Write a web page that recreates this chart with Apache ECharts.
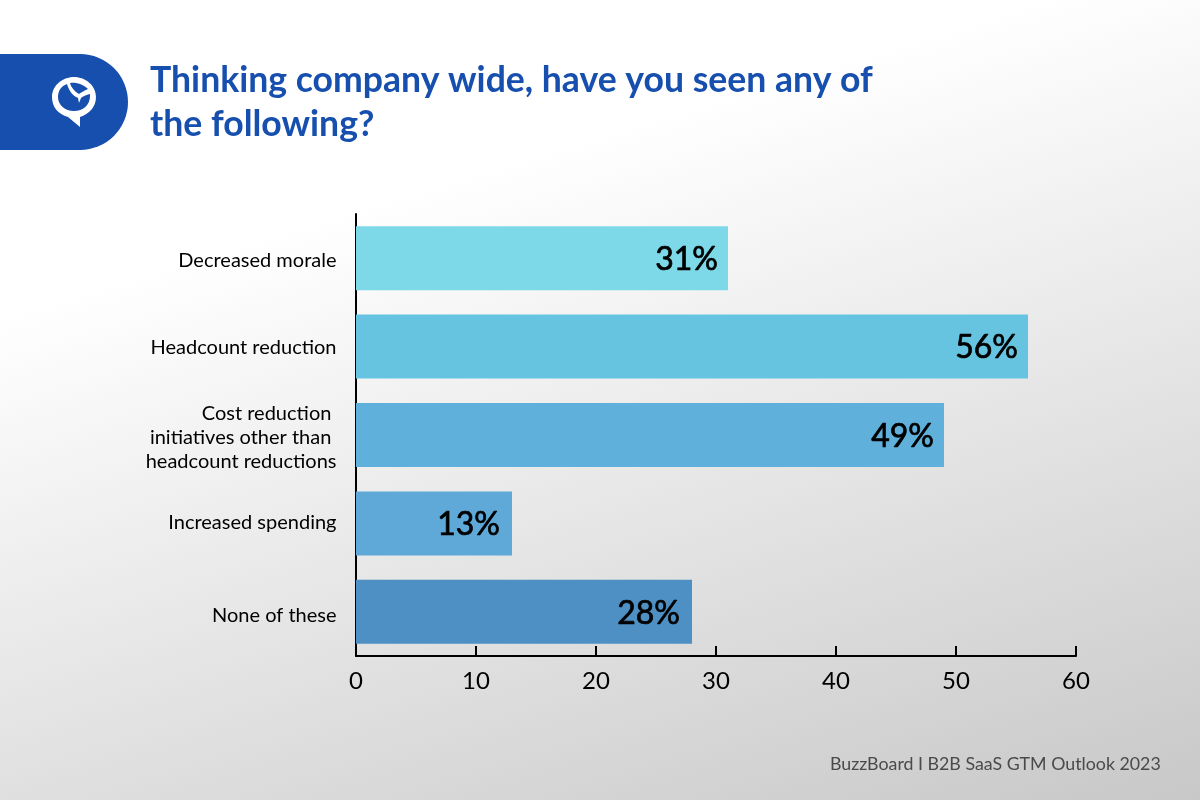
<!DOCTYPE html>
<html><head><meta charset="utf-8">
<style>html,body{margin:0;padding:0;background:#fff}#c{width:1200px;height:800px}</style>
<script src="https://cdn.jsdelivr.net/npm/echarts@6/dist/echarts.min.js"></script>
</head><body><div id="c"></div>
<script>
const categories = ['Decreased morale','Headcount reduction','Cost reduction \ninitiatives other than \nheadcount reductions','Increased spending','None of these'];
const values = [31,56,49,13,28];
const barColors = ['#7DD9E8','#66C4E0','#5FB1DC','#5FA9D8','#4E90C4'];
const tickValues = {min:0,max:60,interval:10};
const titleLines = ['Thinking company wide, have you seen any of','the following?'];
const sourceText = 'BuzzBoard I B2B SaaS GTM Outlook 2023';
const chart = echarts.init(document.getElementById('c'),null,{renderer:'canvas'});
const font = 'Lato';
const tokenBase = {color:'#000',fontFamily:font,fontSize:20,lineHeight:24};
const labelPadding = [[4,0,0,0],[2,0,0,0],[0,0,0,0],[0,0,2,0],[8,0,0,0]];
const labelOffsets = [[0,1.5],[0,1.5],[0,1.5],[-2,1],[-2,2]];
const richStyles = {sp:{fontSize:1,lineHeight:6}, rest:tokenBase};
labelPadding.forEach((p,i)=>{richStyles['first'+i]=Object.assign({},tokenBase,{padding:p});});
echarts.graphic.registerShape('logoMark', echarts.graphic.extendPath('M74 77 C86 77 96 86 96 97 C96 107 89 114 80 117 L80 127 L68 117 C58 114 52 107 52 97 C52 86 62 77 74 77 Z M67 84 C61 86 58 91 58 97 C58 105 65 111 74 111 C83 111 90 105 90 96 L90 94 C86 95 83 96 81 98 L79 103 L78 98 C73 96 69 91 67 84 Z M70 83 C71 87 75 92 79 94 C82 92 85 90 88 89 C84 85 77 82 70 83 Z', {}));
chart.setOption({
  animation:false,
  backgroundColor:new echarts.graphic.LinearGradient(87/1200,287/800,323/1200,1064/800,[{offset:0,color:'#ffffff'},{offset:1,color:'#c8c8c8'}]),
  grid:{left:356,top:214,width:720,height:442,containLabel:false},
  xAxis:{type:'value',min:tickValues.min,max:tickValues.max,interval:tickValues.interval,
    axisLine:{show:true,lineStyle:{color:'#000',width:2}},
    axisTick:{show:true,inside:true,length:10,lineStyle:{color:'#000',width:2}},
    splitLine:{show:false},
    axisLabel:{color:'#000',fontFamily:font,fontSize:24,margin:13}},
  yAxis:{type:'category',inverse:true,data:categories,
    axisLine:{show:true,lineStyle:{color:'#000',width:2}},
    axisTick:{show:false},
    axisLabel:{color:'#000',fontFamily:font,fontSize:20,lineHeight:24,margin:19.5,align:'right',
      formatter:(v,i)=>{
        const lines=v.split('\n');
        if(lines.length>1) return '{sp| }\n'+lines.map(l=>`{rest|${l}}`).join('\n');
        return `{first${i}|${v}}`;
      },
      rich:richStyles}},
  series:[{type:'bar',barWidth:64,z:1,
    data:values.map((v,i)=>({value:v,itemStyle:{color:barColors[i]},label:{offset:labelOffsets[i]}})),
    label:{show:true,position:'insideRight',distance:10,formatter:'{c}%',color:'#000',fontFamily:font,fontWeight:400,fontSize:32,textBorderColor:'#000',textBorderWidth:0.7}}],
  graphic:[
    {type:'rect',shape:{x:-60,y:54,width:188,height:96,r:48},style:{fill:'#164FAD'},z:10},
    {type:'logoMark',z:11,style:{fill:'#fff'}},
    {type:'text',z:12,x:150,y:59,style:{text:titleLines.join('\n'),fill:'#164FAD',font:'700 35.6px Lato',lineHeight:44}},
    {type:'text',z:12,x:830,y:755,style:{text:sourceText,fill:'#4a4a4a',font:'400 17.8px Lato'}}
  ]
});
</script></body></html>
